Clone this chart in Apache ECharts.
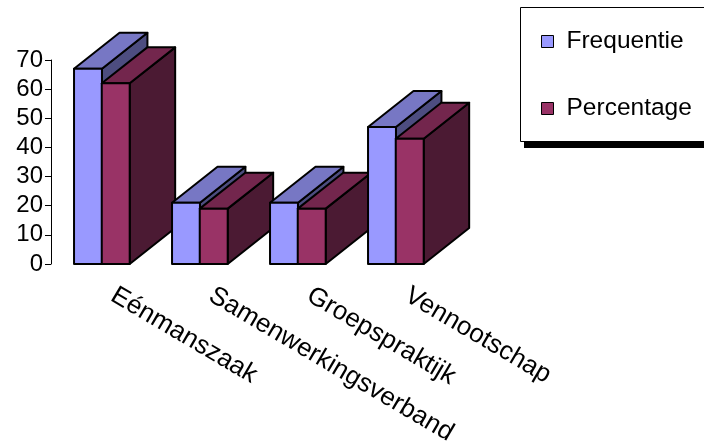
<!DOCTYPE html>
<html>
<head>
<meta charset="utf-8">
<script src="https://cdn.jsdelivr.net/npm/echarts@6/dist/echarts.min.js"></script>
<style>
  html, body { margin: 0; padding: 0; background: #fff; }
  #chart { width: 704px; height: 442px; }
</style>
</head>
<body>
<div id="chart"></div>
<script>
// Praktijkvorm: aantal en aandeel per type
const categories = ['Eénmanszaak', 'Samenwerkingsverband', 'Groepspraktijk', 'Vennootschap'];
const frequentie = [67, 21, 21, 47];
const percentage = [62, 19, 19, 43];
const yTicks = { min: 0, max: 70, interval: 10 };

const FONT = '"Liberation Sans", Arial, sans-serif';

// face colours per series: front, top, side
const PALETTE = [
  { front: '#9999FF', top: '#7777C4', side: '#4D4D80' },
  { front: '#993366', top: '#73264D', side: '#4B1A33' }
];
// bar geometry as fractions of the category band
const BAR_START = [-0.265, 0.018];
const BAR_WIDTH = 0.285;
const DEPTH_X = 0.464;
const DEPTH_Y = -0.367;

function render3dBar(slot) {
  return function (params, api) {
    const cat = api.value(0);
    const val = api.value(1);
    const topPt = api.coord([cat, val]);
    const basePt = api.coord([cat, 0]);
    const band = api.size([1, 0])[0];
    const x0 = basePt[0] + band * BAR_START[slot];
    const x1 = x0 + band * BAR_WIDTH;
    const ty = topPt[1];
    const by = basePt[1];
    const dx = band * DEPTH_X;
    const dy = band * DEPTH_Y;
    const c = PALETTE[slot];
    const stroke = { stroke: '#000', lineWidth: 2, lineJoin: 'round' };
    const zBase = cat * 10 + slot * 4;
    return {
      type: 'group',
      children: [
        {
          type: 'polygon', z2: zBase + 1,
          shape: { points: [[x1, ty], [x1 + dx, ty + dy], [x1 + dx, by + dy], [x1, by]] },
          style: Object.assign({ fill: c.side }, stroke)
        },
        {
          type: 'polygon', z2: zBase + 2,
          shape: { points: [[x0, ty], [x1, ty], [x1 + dx, ty + dy], [x0 + dx, ty + dy]] },
          style: Object.assign({ fill: c.top }, stroke)
        },
        {
          type: 'polygon', z2: zBase + 3,
          shape: { points: [[x0, ty], [x1, ty], [x1, by], [x0, by]] },
          style: Object.assign({ fill: c.front }, stroke)
        }
      ]
    };
  };
}

const chart = echarts.init(document.getElementById('chart'), null, { renderer: 'canvas' });

chart.setOption({
  animation: false,
  backgroundColor: '#fff',
  textStyle: { fontFamily: FONT },
  grid: {
    left: 51, right: 261, top: 60, bottom: 178,
    containLabel: false,
    outerBoundsMode: 'none'
  },
  // legend frame with its drop shadow, running off the right edge
  graphic: [
    {
      type: 'rect', z: 0, silent: true,
      shape: { x: 524, y: 141, width: 220, height: 7 },
      style: { fill: '#000' }
    },
    {
      type: 'rect', z: 1, silent: true,
      shape: { x: 520.5, y: 7.5, width: 220, height: 134 },
      style: { fill: '#fff', stroke: '#000', lineWidth: 1 }
    }
  ],
  legend: {
    orient: 'vertical',
    left: 520,
    top: 7,
    z: 5,
    padding: [22, 20, 23, 21],
    itemGap: 42,
    itemWidth: 12,
    itemHeight: 12,
    icon: 'rect',
    itemStyle: { borderColor: '#000', borderWidth: 1 },
    textStyle: { fontSize: 24.5, color: '#000', fontFamily: FONT, padding: [0, 0, 0, 8] },
    data: ['Frequentie', 'Percentage']
  },
  xAxis: {
    type: 'category',
    data: categories,
    axisLine: { show: false },
    axisTick: { show: false },
    splitLine: { show: false },
    axisLabel: {
      interval: 0,
      rotate: -30.5,
      margin: 22,
      padding: [0, 0, 0, 15],
      fontSize: 26,
      color: '#000',
      fontFamily: FONT
    }
  },
  yAxis: {
    type: 'value',
    min: yTicks.min,
    max: yTicks.max,
    interval: yTicks.interval,
    axisLine: { show: true, lineStyle: { color: '#000', width: 1 } },
    axisTick: { show: true, length: 6, lineStyle: { color: '#000' } },
    splitLine: { show: false },
    axisLabel: { fontSize: 24, color: '#000', margin: 8, fontFamily: FONT }
  },
  series: [
    {
      name: 'Frequentie',
      type: 'custom',
      z: 2,
      itemStyle: { color: PALETTE[0].front },
      renderItem: render3dBar(0),
      encode: { x: 0, y: 1 },
      data: frequentie.map((v, i) => [i, v])
    },
    {
      name: 'Percentage',
      type: 'custom',
      z: 2,
      itemStyle: { color: PALETTE[1].front },
      renderItem: render3dBar(1),
      encode: { x: 0, y: 1 },
      data: percentage.map((v, i) => [i, v])
    }
  ]
});
</script>
</body>
</html>
